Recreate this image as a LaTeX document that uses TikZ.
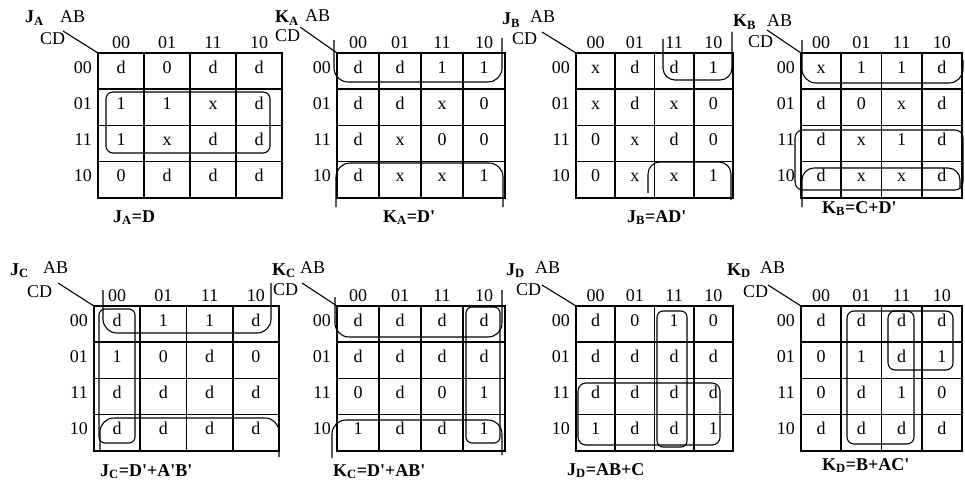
\documentclass[tikz,border=0pt]{standalone}
\usepackage{fontspec}
\setmainfont{Liberation Serif}
\newcommand\prm{\textquotesingle}
\tikzset{
  txt/.style={font=\fontsize{18}{20}\selectfont, inner sep=0pt, text height=12.2pt, text depth=0pt},
  hd/.style={font=\fontsize{18}{20}\selectfont, inner sep=0pt, anchor=base west},
  ttl/.style={font=\fontsize{18}{20}\selectfont\bfseries, inner sep=0pt, anchor=base west},
  gridline/.style={line width=1.7pt},
  grp/.style={line width=1.1pt, rounded corners=#1},
  grp/.default=12pt,
  cdline/.style={line width=1.1pt}
}
% #1 name, #2 left x, #3 right x, #4 top y, #5..#8 cells of rows CD=00,01,11,10
\newcommand\kmap[8]{%
  \pgfmathsetmacro\KL{#2}%
  \pgfmathsetmacro\KR{#3}%
  \pgfmathsetmacro\KT{#4}%
  \pgfmathsetmacro\KW{(\KR-\KL)/4}%
  \def\KH{36.2}%
  \pgfmathsetmacro\KB{\KT+4*\KH}%
  \coordinate (#1-nw) at (\KL,\KT);
  \draw[gridline] (\KL,\KT) rectangle (\KR,\KB);
  \foreach \i in {1,2,3} {
    \draw[gridline] ({\KL+\i*\KW},\KT) -- ({\KL+\i*\KW},\KB);
    \draw[gridline] (\KL,{\KT+\i*\KH}) -- (\KR,{\KT+\i*\KH});
  }
  \foreach \h [count=\c] in {00,01,11,10} {
    \node[txt] (#1-h\c) at ({\KL+(\c-0.5)*\KW},{\KT-10.5}) {\h};
    \node[txt,anchor=east] (#1-v\c) at ({\KL-6},{\KT+(\c-0.5)*\KH-4}) {\h};
  }
  \foreach \rw [count=\r] in {{#5},{#6},{#7},{#8}} {
    \foreach \v [count=\c] in \rw {
      \node[txt] (#1-\r-\c) at ({\KL+(\c-0.5)*\KW},{\KT+(\r-0.5)*\KH-4}) {\v};
    }
  }
}
\begin{document}
\begin{tikzpicture}[x=1pt,y=-1pt]
\fill[white] (0,0) rectangle (965,481);
\useasboundingbox (0,0) rectangle (965,481);

% ---------- the eight Karnaugh maps ----------
\kmap{ja}{98}{282}{53}{d,0,d,d}{1,1,x,d}{1,x,d,d}{0,d,d,d}
\kmap{ka}{337}{505}{53}{d,d,1,1}{d,d,x,0}{d,x,0,0}{d,x,x,1}
\kmap{jb}{576}{733}{53}{x,d,d,1}{x,d,x,0}{0,x,d,0}{0,x,x,1}
\kmap{kb}{801}{962}{53}{x,1,1,d}{d,0,x,d}{d,x,1,d}{d,x,x,d}
\kmap{jc}{94}{279}{306}{d,1,1,d}{1,0,d,0}{d,d,d,d}{d,d,d,d}
\kmap{kc}{337}{505}{306}{d,d,d,d}{d,d,d,d}{0,d,0,1}{1,d,d,1}
\kmap{jd}{576}{733}{306}{d,0,1,0}{d,d,d,d}{d,d,d,d}{1,d,d,1}
\kmap{kd}{801}{962}{306}{d,d,d,d}{0,1,d,1}{0,d,1,0}{d,d,d,d}

% ---------- titles, variable labels and corner lines ----------
\node[ttl] (ja-t) at (25,23) {J\textsubscript{A}};
\node[hd] (ja-ab) at (60,23) {AB};
\node[hd] (ja-cd) at (40,45) {CD};
\coordinate (ja-s) at (63,31);
\draw[cdline] (ja-s) -- (ja-nw);
\node[ttl] (ja-f) at (113,222) {J\textsubscript{A}=D};

\node[ttl] (ka-t) at (275,23) {K\textsubscript{A}};
\node[hd] (ka-ab) at (305,22) {AB};
\node[hd] (ka-cd) at (275,42) {CD};
\coordinate (ka-s) at (300,27);
\draw[cdline] (ka-s) -- (ka-nw);
\node[ttl] (ka-f) at (383,222) {K\textsubscript{A}=D\prm};

\node[ttl] (jb-t) at (502,25) {J\textsubscript{B}};
\node[hd] (jb-ab) at (530,23) {AB};
\node[hd] (jb-cd) at (512,45) {CD};
\coordinate (jb-s) at (542,32);
\draw[cdline] (jb-s) -- (jb-nw);
\node[ttl] (jb-f) at (627,222) {J\textsubscript{B}=AD\prm};

\node[ttl] (kb-t) at (733,27) {K\textsubscript{B}};
\node[hd] (kb-ab) at (767,27) {AB};
\node[hd] (kb-cd) at (748,48) {CD};
\coordinate (kb-s) at (767,30);
\draw[cdline] (kb-s) -- (kb-nw);
\node[ttl] (kb-f) at (822,213) {K\textsubscript{B}=C+D\prm};

\node[ttl] (jc-t) at (10,275) {J\textsubscript{C}};
\node[hd] (jc-ab) at (43,273) {AB};
\node[hd] (jc-cd) at (27,297) {CD};
\coordinate (jc-s) at (58,283);
\draw[cdline] (jc-s) -- (jc-nw);
\node[ttl] (jc-f) at (100,476) {J\textsubscript{C}=D\prm+A\prm B\prm};

\node[ttl] (kc-t) at (272,275) {K\textsubscript{C}};
\node[hd] (kc-ab) at (300,273) {AB};
\node[hd] (kc-cd) at (273,295) {CD};
\coordinate (kc-s) at (302,283);
\draw[cdline] (kc-s) -- (kc-nw);
\node[ttl] (kc-f) at (333,476) {K\textsubscript{C}=D\prm+AB\prm};

\node[ttl] (jd-t) at (506,275) {J\textsubscript{D}};
\node[hd] (jd-ab) at (535,273) {AB};
\node[hd] (jd-cd) at (516,295) {CD};
\coordinate (jd-s) at (542,285);
\draw[cdline] (jd-s) -- (jd-nw);
\node[ttl] (jd-f) at (567,475) {J\textsubscript{D}=AB+C};

\node[ttl] (kd-t) at (727,275) {K\textsubscript{D}};
\node[hd] (kd-ab) at (760,273) {AB};
\node[hd] (kd-cd) at (743,297) {CD};
\coordinate (kd-s) at (768,285);
\draw[cdline] (kd-s) -- (kd-nw);
\node[ttl] (kd-f) at (822,470) {K\textsubscript{D}=B+AC\prm};

% ---------- groupings ----------
% J_A = D
\draw[grp=7pt] (106,92) rectangle (270,153);
% K_A = D'
\draw[grp=14pt] (334,40) -- (334,82) -- (502,82) -- (502,38);
\draw[grp=14pt] (336,207) -- (336,163) -- (503,163) -- (503,207);
% J_B = AD'
\draw[grp=12pt] (663,39) -- (663,80) -- (732,80) -- (732,32);
\draw[grp=12pt] (648,193) -- (648,162) -- (731,162) -- (731,200);
% K_B = C + D'
\draw[grp=14pt] (802,40) -- (802,83) -- (963,83) -- (963,60);
\draw[grp=8pt] (795,130) rectangle (963,190);
\draw[grp=12pt] (802,207) -- (802,168) -- (960,168) -- (960,188);
% J_C = D' + A'B'
\draw[grp=6pt] (99,309) rectangle (135,443);
\draw[grp=14pt] (103,290) -- (103,333) -- (271,333) -- (271,283);
\draw[grp=14pt] (100,450) -- (100,418) -- (279,418) -- (279,457);
% K_C = D' + AB'
\draw[grp=6pt] (466,307) rectangle (500,443);
\draw[grp=14pt] (335,297) -- (335,337) -- (502,337) -- (502,290);
\draw[grp=14pt] (332,458) -- (332,420) -- (502,420) -- (502,455);
% J_D = AB + C
\draw[grp=6pt] (657,311) rectangle (687,447);
\draw[grp=8pt] (578,383) rectangle (720,445);
% K_D = B + AC'
\draw[grp=7pt] (847,311) rectangle (914,444);
\draw[grp=7pt] (888,311) rectangle (953,370);
\end{tikzpicture}
\end{document}
